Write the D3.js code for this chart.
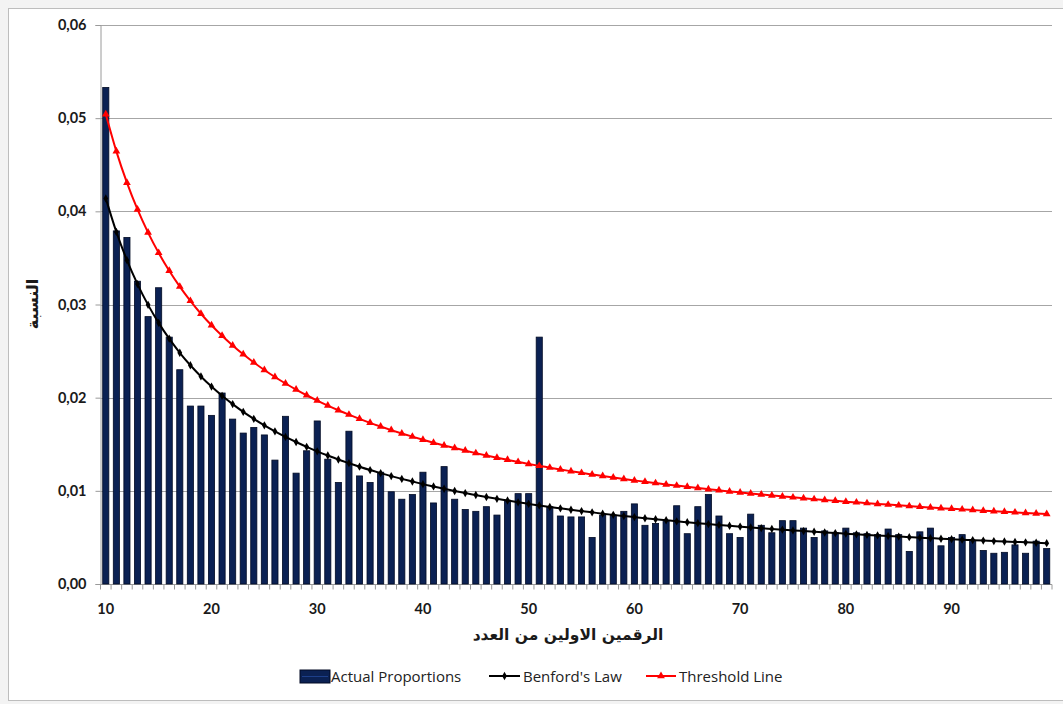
<!DOCTYPE html>
<html>
<head>
<meta charset="utf-8">
<script src="https://cdn.jsdelivr.net/npm/d3@7"></script>
<style>
  html, body { margin: 0; padding: 0; background: #f3f3f3; }
  svg { display: block; }
</style>
</head>
<body>
<svg id="chart" width="1063" height="704"></svg>
<script>
// First-two-digit groups 10..99
const digits = d3.range(10, 100);

// Observed share of each first-two-digit group
const actual = [
  0.0533, 0.0379, 0.0372, 0.0325, 0.0287, 0.0318, 0.0265, 0.0230, 0.0191, 0.0191,
  0.0181, 0.0205, 0.0177, 0.0162, 0.0168, 0.0160, 0.0133, 0.0180, 0.0119, 0.0143,
  0.0175, 0.0134, 0.0109, 0.0164, 0.0116, 0.0109, 0.0120, 0.0099, 0.0091, 0.0096,
  0.0120, 0.0087, 0.0126, 0.0091, 0.0080, 0.0078, 0.0083, 0.0074, 0.0090, 0.0097,
  0.0097, 0.0265, 0.0083, 0.0073, 0.0072, 0.0072, 0.0050, 0.0074, 0.0074, 0.0078,
  0.0086, 0.0063, 0.0065, 0.0067, 0.0084, 0.0054, 0.0083, 0.0096, 0.0073, 0.0054,
  0.0050, 0.0075, 0.0063, 0.0055, 0.0068, 0.0068, 0.0060, 0.0050, 0.0057, 0.0055,
  0.0060, 0.0055, 0.0054, 0.0053, 0.0059, 0.0053, 0.0035, 0.0056, 0.0060, 0.0041,
  0.0050, 0.0053, 0.0047, 0.0036, 0.0033, 0.0034, 0.0042, 0.0033, 0.0046, 0.0038
];

// Expected share under Benford's law
const benford = [
  0.04139, 0.03779, 0.03476, 0.03219, 0.02996, 0.02803, 0.02633, 0.02482, 0.02348, 0.02228,
  0.02119, 0.02020, 0.01931, 0.01848, 0.01773, 0.01703, 0.01639, 0.01579, 0.01524, 0.01472,
  0.01424, 0.01379, 0.01336, 0.01297, 0.01259, 0.01223, 0.01190, 0.01158, 0.01128, 0.01100,
  0.01072, 0.01047, 0.01022, 0.00998, 0.00976, 0.00955, 0.00934, 0.00914, 0.00896, 0.00877,
  0.00860, 0.00843, 0.00827, 0.00812, 0.00797, 0.00783, 0.00769, 0.00755, 0.00742, 0.00730,
  0.00718, 0.00706, 0.00695, 0.00684, 0.00673, 0.00663, 0.00653, 0.00643, 0.00634, 0.00625,
  0.00616, 0.00607, 0.00599, 0.00591, 0.00583, 0.00575, 0.00568, 0.00561, 0.00553, 0.00547,
  0.00540, 0.00533, 0.00527, 0.00521, 0.00515, 0.00509, 0.00503, 0.00497, 0.00492, 0.00486,
  0.00481, 0.00476, 0.00471, 0.00466, 0.00461, 0.00456, 0.00452, 0.00447, 0.00443, 0.00438
];

// Upper tolerance line
const threshold = [
  0.05042, 0.04644, 0.04308, 0.04020, 0.03772, 0.03554, 0.03362, 0.03192, 0.03039, 0.02901,
  0.02777, 0.02664, 0.02560, 0.02465, 0.02378, 0.02297, 0.02222, 0.02152, 0.02087, 0.02026,
  0.01969, 0.01915, 0.01865, 0.01818, 0.01773, 0.01730, 0.01690, 0.01652, 0.01616, 0.01582,
  0.01549, 0.01517, 0.01487, 0.01459, 0.01432, 0.01405, 0.01380, 0.01356, 0.01333, 0.01311,
  0.01289, 0.01268, 0.01249, 0.01229, 0.01211, 0.01193, 0.01176, 0.01159, 0.01143, 0.01127,
  0.01112, 0.01097, 0.01083, 0.01069, 0.01056, 0.01043, 0.01030, 0.01018, 0.01006, 0.00994,
  0.00983, 0.00972, 0.00961, 0.00950, 0.00940, 0.00930, 0.00921, 0.00911, 0.00902, 0.00893,
  0.00884, 0.00876, 0.00868, 0.00859, 0.00852, 0.00844, 0.00836, 0.00829, 0.00821, 0.00814,
  0.00807, 0.00801, 0.00794, 0.00787, 0.00781, 0.00775, 0.00769, 0.00763, 0.00757, 0.00751
];

const yTicks = [0, 0.01, 0.02, 0.03, 0.04, 0.05, 0.06];
const xTickLabels = [10, 20, 30, 40, 50, 60, 70, 80, 90];

const seriesNames = ["Actual Proportions", "Benford's Law", "Threshold Line"];
const xTitle = "الرقمين الاولين من العدد";
const yTitle = "النسبة";

const svg = d3.select("#chart");
const W = 1063, H = 704;
const plot = { left: 100.5, right: 1052, top: 25, bottom: 584 };

// Chart area background + frame
svg.append("rect")
  .attr("x", 8.5).attr("y", 8.5)
  .attr("width", W + 10).attr("height", 692)
  .attr("fill", "#ffffff")
  .attr("stroke", "#bdbdbd").attr("stroke-width", 1);

const x = d3.scaleBand()
  .domain(digits)
  .range([plot.left, plot.right])
  .paddingInner(0.42)
  .paddingOuter(0.21);

const xBand = d3.scaleBand().domain(digits).range([plot.left, plot.right]).padding(0);

const y = d3.scaleLinear().domain([0, 0.06]).range([plot.bottom, plot.top]);

const fmt = d => d3.format(".2f")(d).replace(".", ",");

// Horizontal gridlines
svg.append("g")
  .selectAll("line")
  .data(yTicks.filter(d => d > 0))
  .join("line")
  .attr("x1", plot.left).attr("x2", plot.right)
  .attr("y1", d => Math.round(y(d)) + 0.5).attr("y2", d => Math.round(y(d)) + 0.5)
  .attr("stroke", "#a6a6a6").attr("stroke-width", 1);

// Y axis
const yAxis = svg.append("g")
  .attr("transform", `translate(${plot.left},0)`)
  .call(d3.axisLeft(y).tickValues(yTicks).tickFormat(fmt).tickSize(5).tickPadding(9));
yAxis.select(".domain").attr("stroke", "#9a9a9a");
yAxis.selectAll(".tick line").attr("stroke", "#9a9a9a");
yAxis.selectAll(".tick text")
  .attr("font-family", "Lato, 'Open Sans', sans-serif")
  .attr("font-weight", "bold")
  .attr("font-size", 14.5)
  .attr("fill", "#1a1a1a");

// X axis: a tick between every category, labels every ten
const xAxisG = svg.append("g").attr("transform", `translate(0,${plot.bottom + 0.5})`);
xAxisG.append("line")
  .attr("x1", plot.left).attr("x2", plot.right)
  .attr("stroke", "#9a9a9a");
xAxisG.selectAll("line.tk")
  .data(digits.concat([100]))
  .join("line")
  .attr("class", "tk")
  .attr("x1", d => d === 100 ? plot.right : xBand(d))
  .attr("x2", d => d === 100 ? plot.right : xBand(d))
  .attr("y1", 0).attr("y2", 5)
  .attr("stroke", "#9a9a9a");
xAxisG.selectAll("text")
  .data(xTickLabels)
  .join("text")
  .attr("x", d => xBand(d) + xBand.bandwidth() / 2)
  .attr("y", 29)
  .attr("text-anchor", "middle")
  .attr("font-family", "Lato, 'Open Sans', sans-serif")
  .attr("font-weight", "bold")
  .attr("font-size", 14.5)
  .attr("fill", "#1a1a1a")
  .text(d => d);

// Bars
svg.append("g")
  .selectAll("rect")
  .data(digits.map((d, i) => ({ d, v: actual[i] })))
  .join("rect")
  .attr("x", p => x(p.d))
  .attr("y", p => y(p.v))
  .attr("width", x.bandwidth())
  .attr("height", p => y(0) - y(p.v))
  .attr("fill", "#0b2153")
  .attr("stroke", "#020b24")
  .attr("stroke-width", 0.8);

const cx = d => xBand(d) + xBand.bandwidth() / 2;

// Benford's law curve
const benPts = digits.map((d, i) => [cx(d), y(benford[i])]);
svg.append("path")
  .attr("d", d3.line().curve(d3.curveMonotoneX)(benPts))
  .attr("fill", "none").attr("stroke", "#000").attr("stroke-width", 2);
svg.append("g").selectAll("path")
  .data(benPts)
  .join("path")
  .attr("transform", p => `translate(${p[0]},${p[1]})`)
  .attr("d", d3.symbol(d3.symbolDiamond, 20)())
  .attr("fill", "#000");

// Threshold curve
const thrPts = digits.map((d, i) => [cx(d), y(threshold[i])]);
svg.append("path")
  .attr("d", d3.line().curve(d3.curveMonotoneX)(thrPts))
  .attr("fill", "none").attr("stroke", "#ff0000").attr("stroke-width", 2);
svg.append("g").selectAll("path")
  .data(thrPts)
  .join("path")
  .attr("transform", p => `translate(${p[0]},${p[1]})`)
  .attr("d", d3.symbol(d3.symbolTriangle, 26)())
  .attr("fill", "#ff0000");

// Axis titles
svg.append("text")
  .attr("x", 568).attr("y", 640)
  .attr("text-anchor", "middle")
  .attr("font-family", "'DejaVu Sans', sans-serif")
  .attr("font-weight", "bold")
  .attr("font-size", 15.5)
  .attr("fill", "#1a1a1a")
  .text(xTitle);

svg.append("text")
  .attr("transform", "translate(38,304) rotate(-90)")
  .attr("text-anchor", "middle")
  .attr("font-family", "'DejaVu Sans', sans-serif")
  .attr("font-weight", "bold")
  .attr("font-size", 16)
  .attr("fill", "#1a1a1a")
  .text(yTitle);

// Legend
const legend = svg.append("g").attr("font-family", "'Open Sans', Lato, sans-serif")
  .attr("font-size", 15).attr("fill", "#222");
const ly = 676;

legend.append("rect")
  .attr("x", 300).attr("y", ly - 6).attr("width", 30).attr("height", 13)
  .attr("fill", "#0b2153").attr("stroke", "#020b24");
legend.append("line")
  .attr("x1", 302).attr("x2", 328).attr("y1", ly + 0.5).attr("y2", ly + 0.5)
  .attr("stroke", "#1d3f8a").attr("stroke-width", 1);
legend.append("text").attr("x", 331).attr("y", ly + 5.5).text(seriesNames[0]);

legend.append("line")
  .attr("x1", 489).attr("x2", 520).attr("y1", ly).attr("y2", ly)
  .attr("stroke", "#000").attr("stroke-width", 2);
legend.append("path")
  .attr("transform", `translate(504.5,${ly})`)
  .attr("d", d3.symbol(d3.symbolDiamond, 20)())
  .attr("fill", "#000");
legend.append("text").attr("x", 523).attr("y", ly + 5.5).text(seriesNames[1]);

legend.append("line")
  .attr("x1", 646).attr("x2", 676).attr("y1", ly).attr("y2", ly)
  .attr("stroke", "#ff0000").attr("stroke-width", 2);
legend.append("path")
  .attr("transform", `translate(661,${ly})`)
  .attr("d", d3.symbol(d3.symbolTriangle, 26)())
  .attr("fill", "#ff0000");
legend.append("text").attr("x", 679).attr("y", ly + 5.5).text(seriesNames[2]);
</script>
</body>
</html>
